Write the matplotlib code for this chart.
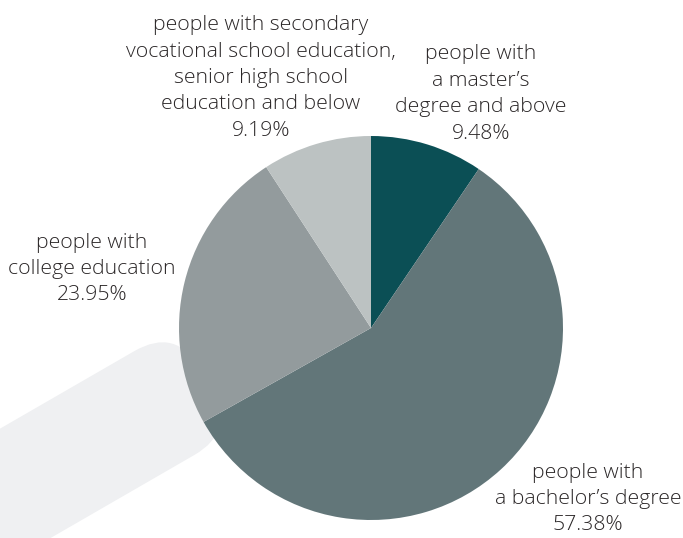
import matplotlib
matplotlib.use("Agg")
import matplotlib.pyplot as plt
from matplotlib.patches import FancyBboxPatch
from matplotlib.transforms import Affine2D

# data
labels = ["people with\na master\u2019s\ndegree and above",
          "people with\na bachelor\u2019s degree",
          "people with\ncollege education",
          "people with secondary\nvocational school education,\nsenior high school\neducation and below"]
shares = [9.48, 57.38, 23.95, 9.19]
colors = ["#0b4f55", "#627679", "#939b9d", "#bcc2c2"]

# label centres in image pixels (x, y from top)
label_pos = [(481, 94), (588, 499), (92, 269), (261, 78)]

W, H = 683, 538
fig = plt.figure(figsize=(W / 100, H / 100), dpi=100)
ax = fig.add_axes([0, 0, 1, 1])
ax.set_xlim(0, W)
ax.set_ylim(0, H)
ax.set_aspect("equal")
ax.axis("off")

# light grey rounded band behind the pie
band = FancyBboxPatch((-700, -60), 700, 120,
                      boxstyle="round,pad=0,rounding_size=48",
                      facecolor="#eff0f2", edgecolor="none", zorder=0)
band.set_transform(Affine2D().rotate_deg(30).translate(206, H - 379) + ax.transData)
ax.add_patch(band)

cx, cy, r = 371, H - 328, 192
ax.pie(shares, colors=colors, startangle=90, counterclock=False,
       center=(cx, cy), radius=r, frame=True,
       wedgeprops=dict(linewidth=0))
ax.set_xlim(0, W)
ax.set_ylim(0, H)
ax.axis("off")

for lab, val, (x, y) in zip(labels, shares, label_pos):
    ax.text(x, H - y, f"{lab}\n{val:.2f}%", ha="center", va="center",
            multialignment="center", fontsize=15.3, linespacing=1.43,
            color="#2a2627", family="Open Sans", fontweight=300, zorder=5)

fig.savefig("out.png", dpi=100)
